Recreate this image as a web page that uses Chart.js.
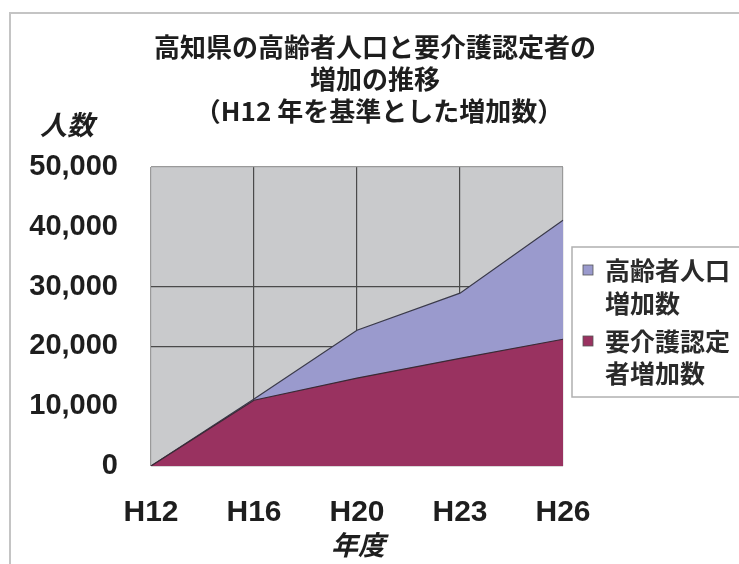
<!DOCTYPE html>
<html>
<head>
<meta charset="utf-8">
<script src="https://cdn.jsdelivr.net/npm/chart.js@4/dist/chart.umd.min.js"></script>
<style>
  html, body { margin: 0; padding: 0; background: #fff; }
  #wrap { width: 739px; height: 564px; position: relative; }
</style>
</head>
<body>
<div id="wrap"><canvas id="c" width="739" height="564"></canvas></div>
<script>
// 年度 (x) and 増加数 vs H12 (y)
const years = ['H12', 'H16', 'H20', 'H23', 'H26'];
const elderlyIncrease = [0, 11200, 22700, 28900, 41100];
const careIncrease = [0, 11000, 14700, 18000, 21200];
const yTicks = [0, 10000, 20000, 30000, 40000, 50000];
const titleLines = ['高知県の高齢者人口と要介護認定者の', '増加の推移', '（H12 年を基準とした増加数）'];
const legendLines = [['高齢者人口', '増加数'], ['要介護認定', '者増加数']];

const LAVENDER = '#9a9acd';
const MAROON = '#993260';
const PLOT_BG = '#c9cacc';

// grey plot background, outer frame, title, 人数 / 年度 labels and the boxed legend
const decor = {
  id: 'decor',
  beforeDraw(chart) {
    const { ctx, chartArea: a } = chart;
    ctx.save();
    ctx.strokeStyle = '#c4c4c4';
    ctx.lineWidth = 2;
    ctx.strokeRect(10, 13, 760, 600);
    ctx.fillStyle = PLOT_BG;
    ctx.fillRect(a.left, a.top, a.right - a.left, a.bottom - a.top);
    ctx.restore();
  },
  afterDraw(chart) {
    const { ctx } = chart;
    ctx.save();
    ctx.fillStyle = '#1e1e1e';
    ctx.textBaseline = 'middle';
    ctx.textAlign = 'center';
    ctx.font = 'bold 26px "Noto Sans CJK JP"';
    const ty = [47, 79, 111];
    titleLines.forEach((t, i) => ctx.fillText(t, i === 2 ? 379 : 375, ty[i]));

    ctx.font = 'italic bold 27px "Noto Sans CJK JP"';
    ctx.textAlign = 'left';
    ctx.fillText('人数', 40, 125);
    ctx.textAlign = 'center';
    ctx.fillText('年度', 358, 545);

    // legend
    ctx.fillStyle = '#fff';
    ctx.fillRect(572, 247, 180, 150);
    ctx.strokeStyle = '#b0b0b0';
    ctx.lineWidth = 1.5;
    ctx.strokeRect(572, 247, 180, 150);
    const colors = [LAVENDER, MAROON];
    const rows = [[270, 303], [341, 373]];
    ctx.textAlign = 'left';
    ctx.font = 'bold 25px "Noto Sans CJK JP"';
    legendLines.forEach((lines, i) => {
      ctx.fillStyle = colors[i];
      ctx.fillRect(583, rows[i][0] - 5, 10, 10);
      ctx.strokeStyle = '#555';
      ctx.lineWidth = 0.8;
      ctx.strokeRect(583, rows[i][0] - 5, 10, 10);
      ctx.fillStyle = '#2a2a2a';
      lines.forEach((t, j) => ctx.fillText(t, 605, rows[i][j]));
    });
    ctx.restore();
  }
};

new Chart(document.getElementById('c'), {
  type: 'line',
  data: {
    labels: years,
    datasets: [
      { label: '要介護認定者増加数', data: careIncrease, order: 0,
        backgroundColor: MAROON, borderColor: '#3a2a35', borderWidth: 1.2, fill: 'origin', tension: 0, pointRadius: 0 },
      { label: '高齢者人口増加数', data: elderlyIncrease, order: 1,
        backgroundColor: LAVENDER, borderColor: '#3a3a4a', borderWidth: 1.2, fill: 'origin', tension: 0, pointRadius: 0 },
    ],
  },
  options: {
    responsive: false,
    animation: false,
    layout: { padding: { left: 0, right: 176, top: 167, bottom: 0 } },
    plugins: {
      legend: { display: false },
      tooltip: { enabled: false },
      title: { display: false },
    },
    scales: {
      x: {
        afterFit: s => { s.height = 98; },
        grid: {
          drawTicks: false,
          color: ctx => (ctx.index === 0 || ctx.index === years.length - 1) ? '#9a9a9a' : '#4a4a4a',
          lineWidth: 1.2,
        },
        border: { display: false },
        ticks: {
          color: '#1e1e1e', padding: 29, autoSkip: false, maxRotation: 0,
          font: { family: '"Liberation Sans"', size: 30, weight: 'bold' },
        },
      },
      y: {
        min: 0, max: 50000,
        afterFit: s => { s.width = 151; },
        afterBuildTicks: s => { s.ticks = yTicks.map(v => ({ value: v })); },
        grid: {
          drawTicks: false,
          color: ctx => {
            const v = ctx.tick && ctx.tick.value;
            if (v === 20000 || v === 30000) return '#4a4a4a';
            if (v === 0) return '#666';
            if (v === 50000) return '#9a9a9a';
            return 'rgba(0,0,0,0)';
          },
          lineWidth: 1.2,
        },
        border: { display: false },
        ticks: {
          color: '#1e1e1e', padding: 33,
          font: { family: '"Liberation Sans"', size: 29, weight: 'bold' },
          callback: v => v.toLocaleString('en-US'),
        },
      },
    },
  },
  plugins: [decor],
});
</script>
</body>
</html>
